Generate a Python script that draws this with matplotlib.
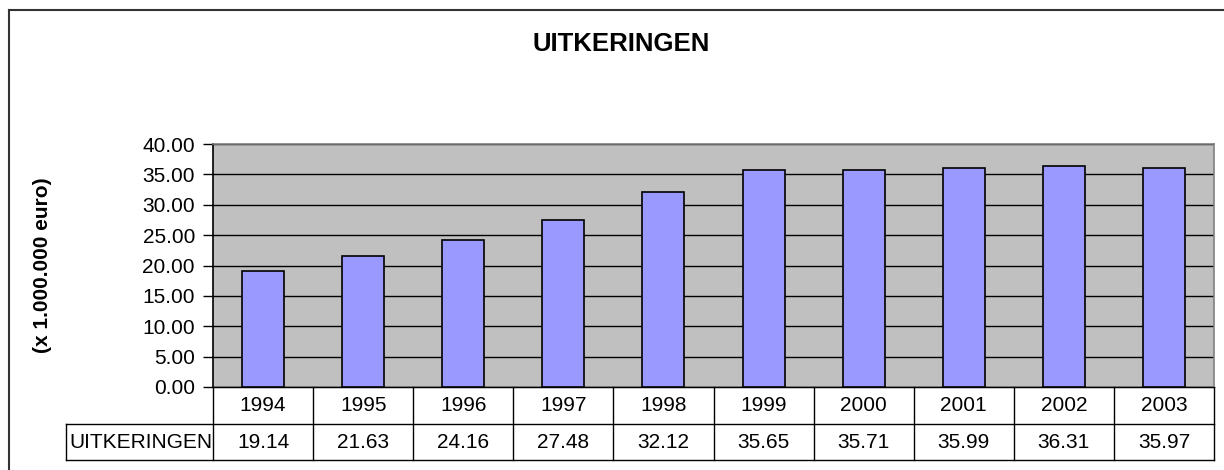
import matplotlib
matplotlib.use("Agg")
import matplotlib.pyplot as plt
from matplotlib.lines import Line2D
from matplotlib.transforms import blended_transform_factory

plt.rcParams['font.family'] = ['Liberation Sans', 'DejaVu Sans']

title = "UITKERINGEN"
ylabel = "(x 1.000.000 euro)"
series_name = "UITKERINGEN"
years = ["1994", "1995", "1996", "1997", "1998", "1999", "2000", "2001", "2002", "2003"]
values = [19.14, 21.63, 24.16, 27.48, 32.12, 35.65, 35.71, 35.99, 36.31, 35.97]
yticks = [0, 5, 10, 15, 20, 25, 30, 35, 40]

W, H = 1224, 470
fig = plt.figure(figsize=(W / 100, H / 100), dpi=100)
fig.patch.set_facecolor("white")

# plot area pixels
x0, x1 = 213, 1214
y0, y1 = 144, 387
ax = fig.add_axes([x0 / W, 1 - y1 / H, (x1 - x0) / W, (y1 - y0) / H])
ax.set_facecolor("#C0C0C0")

n = len(years)
xs = list(range(n))
ax.set_axisbelow(True)
ax.yaxis.grid(True, color="black", linewidth=1)
ax.bar(xs, values, width=0.42, color="#9999FF", edgecolor="black", linewidth=1.2, zorder=3)
ax.set_xlim(-0.5, n - 0.5)
ax.set_ylim(0, 40)
ax.set_yticks(yticks)
ax.set_yticklabels([f"{v:.2f}" for v in yticks], fontsize=15)
ax.tick_params(axis="y", length=7, width=1, color="black", pad=6)
ax.set_xticks([])
for s in ["top", "right"]:
    ax.spines[s].set_color("#808080")
    ax.spines[s].set_linewidth(1.2)
ax.spines["left"].set_color("black")
ax.spines["left"].set_linewidth(1.2)
ax.spines["bottom"].set_color("black")

# data table drawn below the axes (x in data units, y in axes fraction)
ax_h = y1 - y0
r1 = -(424 - 387) / ax_h   # bottom of the year row
r2 = -(460 - 387) / ax_h   # bottom of the value row
lab_left = -0.5 - (x0 - 66) / ((x1 - x0) / n)
tr = blended_transform_factory(ax.transData, ax.transAxes)
lk = dict(transform=tr, color="black", linewidth=1, clip_on=False)
# horizontal lines
ax.add_line(Line2D([-0.5, n - 0.5], [0, 0], **lk))
ax.add_line(Line2D([lab_left, n - 0.5], [r1, r1], **lk))
ax.add_line(Line2D([lab_left, n - 0.5], [r2, r2], **lk))
# vertical lines
for b in range(n + 1):
    ax.add_line(Line2D([b - 0.5, b - 0.5], [0, r2], **lk))
ax.add_line(Line2D([lab_left, lab_left], [r1, r2], **lk))
for i in xs:
    ax.text(i, r1 / 2, years[i], transform=tr, ha="center", va="center", fontsize=15)
    ax.text(i, (r1 + r2) / 2, f"{values[i]:.2f}", transform=tr, ha="center", va="center", fontsize=15)
ax.text(lab_left + 0.03, (r1 + r2) / 2, series_name, transform=tr, ha="left", va="center", fontsize=15)

fig.text(621 / W, 1 - 44 / H, title, ha="center", va="center", fontsize=18.5, fontweight="bold")
fig.text(42 / W, 1 - 265 / H, ylabel, ha="center", va="center", rotation=90, fontsize=15, fontweight="bold")

# outer chart border (left and top)
fig.add_artist(Line2D([9 / W, 9 / W], [0, 1 - 10 / H], transform=fig.transFigure, color="#333333", linewidth=1.5))
fig.add_artist(Line2D([9 / W, 1], [1 - 10 / H, 1 - 10 / H], transform=fig.transFigure, color="#333333", linewidth=1.5))

fig.savefig("out.png", dpi=100)
